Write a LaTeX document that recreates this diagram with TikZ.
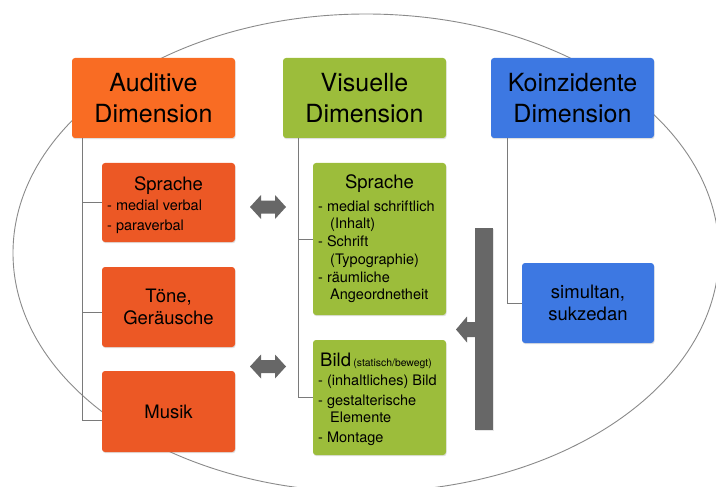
\documentclass[tikz,border=0pt]{standalone}
\usepackage{fontspec}
\setmainfont{TeX Gyre Heros}
\usetikzlibrary{shadows}
\definecolor{audtitle}{HTML}{F96C23}
\definecolor{audsub}{HTML}{EC5825}
\definecolor{vis}{HTML}{9CBD3B}
\definecolor{koi}{HTML}{3D78E2}
\definecolor{ring}{HTML}{8A8A8A}
\definecolor{branch}{HTML}{7A7A7A}
\definecolor{arrowgray}{HTML}{676767}

\begin{document}
\begin{tikzpicture}[x=1pt,y=-1pt,
  box/.style={rounded corners=3pt, inner sep=0pt, align=center,
    drop shadow={opacity=0.25, shadow xshift=0.6pt, shadow yshift=-1.2pt}},
  titlebox/.style={box, minimum width=163pt, minimum height=80pt,
    font=\fontsize{25}{31}\selectfont},
  subbox/.style={box, minimum width=133pt, font=\fontsize{18.5}{22}\selectfont},
  lst/.style={inner sep=0pt, anchor=base west, font=\fontsize{14.5}{18}\selectfont},
  head/.style={inner sep=0pt, anchor=base, font=\fontsize{18.5}{22}\selectfont},
  branchline/.style={draw=branch, line width=0.9pt},
  grayshape/.style={fill=arrowgray},
]
\useasboundingbox (0,0) rectangle (716,487);
\clip (0,0) rectangle (716,487);

% surrounding ellipse
\draw[ring, line width=0.9pt] (366,253) ellipse [x radius=353pt, y radius=239pt];

% dimension headers
\node[titlebox, fill=audtitle] (aud) at (153.5,98) {Auditive\\Dimension};
\node[titlebox, fill=vis] (vis) at (364.5,98) {Visuelle\\Dimension};
\node[titlebox, fill=koi] (koi) at (572.5,98) {Koinzidente\\Dimension};

% auditive items
\node[subbox, fill=audsub, minimum height=79pt] (asp) at (168.5,202.5) {};
\node[subbox, fill=audsub, minimum height=80pt] (ton) at (168.5,307) {Töne,\\Geräusche};
\node[subbox, fill=audsub, minimum height=81pt] (mus) at (168.5,411.5) {Musik};

% visual items
\node[subbox, fill=vis, minimum height=152pt] (vsp) at (379.5,239) {};
\node[subbox, fill=vis, minimum height=115pt] (bild) at (379.5,397.5) {};

% coincident item
\node[subbox, fill=koi, minimum width=132pt, minimum height=80pt] (sim) at (588,303) {simultan,\\sukzedan};

% texts of the auditive language box
\node[head] (asp-h) at (168.5,190) {Sprache};
\node[lst] (asp-1) at (107,211) {- medial verbal};
\node[lst] (asp-2) at (107,230) {- paraverbal};

% texts of the visual language box
\node[head] (vsp-h) at (379.5,189) {Sprache};
\node[lst] (vsp-1) at (318,211.5) {- medial schriftlich};
\node[lst] (vsp-1b) at (330,229) {(Inhalt)};
\node[lst] (vsp-2) at (318,246.5) {- Schrift};
\node[lst] (vsp-2b) at (330,264) {(Typographie)};
\node[lst] (vsp-3) at (318,282) {- räumliche};
\node[lst] (vsp-3b) at (330,299.5) {Angeordnetheit};

% texts of the image box
\node[lst] (bild-h) at (320,366) {{\fontsize{18.5}{22}\selectfont Bild}\,{\fontsize{10.4}{12}\selectfont(statisch/bewegt)}};
\node[lst] (bild-1) at (318,385.7) {- (inhaltliches) Bild};
\node[lst] (bild-2) at (318,405) {- gestalterische};
\node[lst] (bild-2b) at (330,422.7) {Elemente};
\node[lst] (bild-3) at (318,442.7) {- Montage};

% tree branches
\draw[branchline] ([xshift=11pt]aud.south west) |- (asp.west);
\draw[branchline] ([xshift=11pt]aud.south west) |- ([yshift=-5pt]ton.west);
\draw[branchline] ([xshift=11pt]aud.south west) |- ([yshift=-9pt]mus.west);
\draw[branchline] ([xshift=16pt]vis.south west) |- (vsp.west);
\draw[branchline] ([xshift=16pt]vis.south west) |- (bild.west);
\draw[branchline] ([xshift=17pt]koi.south west) |- (sim.west);

% double arrows between auditive and visual items
\coordinate (dA) at (268,207);
\coordinate (dB) at (268,366.5);
\foreach \c in {dA,dB}{
  \fill[grayshape] ([shift={(-18,0)}]\c) -- ++(11,-12) -- ++(0,5.5) -- ++(14,0)
    -- ++(0,-5.5) -- ++(11,12) -- ++(-11,12) -- ++(0,-5.5) -- ++(-14,0)
    -- ++(0,5.5) -- cycle;
}

% bar with arrow pointing to the visual items
\coordinate (barTop) at (475,228);
\coordinate (barTip) at (456,329.5);
\fill[grayshape, drop shadow={opacity=0.2, shadow xshift=0.6pt, shadow yshift=-1pt}]
  (barTop) rectangle ++(18,202);
\fill[grayshape] (barTip) -- ++(11,-13) -- ++(0,5.5) -- ++(9,0) -- ++(0,15)
  -- ++(-9,0) -- ++(0,5.5) -- cycle;
\end{tikzpicture}
\end{document}
